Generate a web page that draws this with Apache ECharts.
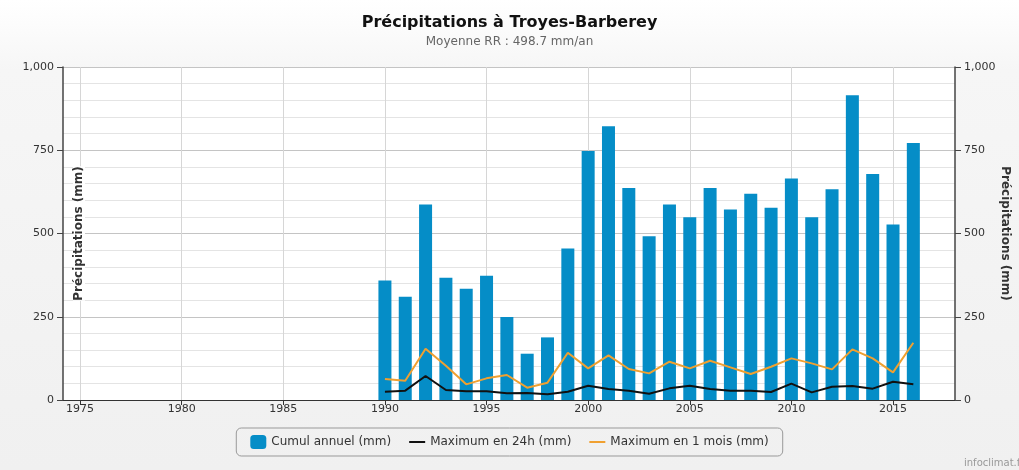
<!DOCTYPE html>
<html>
<head>
<meta charset="utf-8">
<script src="https://cdn.jsdelivr.net/npm/echarts@6/dist/echarts.min.js"></script>
<style>html,body{margin:0;padding:0;}#c{width:1019px;height:470px;}</style>
</head>
<body>
<div id="c"></div>
<script>
const years = [1990,1991,1992,1993,1994,1995,1996,1997,1998,1999,2000,2001,2002,2003,2004,2005,2006,2007,2008,2009,2010,2011,2012,2013,2014,2015,2016];
const cumulAnnuel = [359,310,587,367,334,373,249,139,188,455,748,822,637,492,587,549,637,572,619,577,665,549,633,915,679,527,772];
const max24h = [25,28,72,30,26,26,20,21,17,25,43,33,28,19,35,43,33,28,28,24,49,23,40,42,34,55,47];
const max1mois = [63,58,154,103,47,65,75,37,52,142,95,134,93,80,115,95,118,98,78,100,125,110,92,152,125,83,172];
const xTicks = [1975,1980,1985,1990,1995,2000,2005,2010,2015];
const yTicks = [0,250,500,750,1000];
const seriesNames = ['Cumul annuel (mm)','Maximum en 24h (mm)','Maximum en 1 mois (mm)'];
const titleText = 'Précipitations à Troyes-Barberey';
const subtitleText = 'Moyenne RR : 498.7 mm/an';
const yName = 'Précipitations (mm)';

const pair = arr => years.map((y, i) => [y, arr[i]]);
const FONT = 'DejaVu Sans';
const fmt = v => v.toLocaleString('en-US');
const lineIcon = 'path://M0,0L0,0M0,6L16,6L16,8L0,8ZM16,14L16,14';

const chart = echarts.init(document.getElementById('c'), null, {renderer: 'canvas'});
chart.setOption({
  animation: false,
  backgroundColor: {type: 'linear', x: 0, y: 0, x2: 0, y2: 1, colorStops: [{offset: 0, color: '#ffffff'}, {offset: 0.15, color: '#f6f6f6'}, {offset: 1, color: '#f0f0f0'}]},
  textStyle: {fontFamily: FONT},
  title: {
    text: titleText, subtext: subtitleText, left: 'center', top: 10, itemGap: 5,
    textStyle: {fontFamily: FONT, fontSize: 16, fontWeight: 'bold', color: '#111'},
    subtextStyle: {fontFamily: FONT, fontSize: 12, fontWeight: 'normal', color: '#666'}
  },
  grid: {left: 63, right: 64, top: 67, bottom: 70, show: true, backgroundColor: '#ffffff', borderWidth: 0, containLabel: false},
  legend: {
    data: [
      {name: seriesNames[0], icon: 'roundRect'},
      {name: seriesNames[1], icon: lineIcon},
      {name: seriesNames[2], icon: lineIcon}
    ],
    left: 'center', top: 428, orient: 'horizontal',
    borderColor: '#999', borderWidth: 1, borderRadius: 5, padding: [7, 14, 7, 14],
    itemGap: 18, itemWidth: 16, itemHeight: 14,
    textStyle: {fontFamily: FONT, fontSize: 12, color: '#333'}
  },
  xAxis: {
    type: 'value', min: 1974.16, max: 2018.05,
    axisLine: {show: true, lineStyle: {color: '#333', width: 1}},
    axisTick: {show: true, customValues: xTicks, length: 5, lineStyle: {color: '#333'}},
    axisLabel: {customValues: xTicks, formatter: v => String(v), color: '#333', fontSize: 11, fontFamily: FONT, margin: 4},
    splitLine: {show: true, lineStyle: {color: '#d6d6d6', width: 1}}
  },
  yAxis: [{
    type: 'value', min: 0, max: 1000, interval: 250, position: 'left',
    name: yName, nameLocation: 'middle', nameGap: -22, nameRotate: 90, nameMoveOverlap: false,
    nameTextStyle: {fontFamily: FONT, fontSize: 12, fontWeight: 'bold', color: '#333', backgroundColor: '#fff'},
    axisLine: {show: true, lineStyle: {color: '#444', width: 1.5}},
    axisTick: {show: true, length: 6, lineStyle: {color: '#444'}},
    axisLabel: {formatter: fmt, color: '#333', fontSize: 11, fontFamily: FONT, margin: 9},
    splitLine: {show: true, lineStyle: {color: '#c4c4c4', width: 1}},
    minorTick: {show: false, splitNumber: 5},
    minorSplitLine: {show: true, lineStyle: {color: '#e4e4e4', width: 1}}
  }, {
    type: 'value', min: 0, max: 1000, interval: 250, position: 'right',
    name: yName, nameLocation: 'middle', nameGap: 44, nameRotate: -90, nameMoveOverlap: false,
    nameTextStyle: {fontFamily: FONT, fontSize: 12, fontWeight: 'bold', color: '#333'},
    axisLine: {show: true, lineStyle: {color: '#444', width: 1.5}},
    axisTick: {show: true, length: 6, lineStyle: {color: '#444'}},
    axisLabel: {formatter: fmt, color: '#333', fontSize: 11, fontFamily: FONT, margin: 9},
    splitLine: {show: false}
  }],
  series: [{
    name: seriesNames[0], type: 'bar', yAxisIndex: 0, data: pair(cumulAnnuel),
    barWidth: 13, itemStyle: {color: '#058DC7'}
  }, {
    name: seriesNames[1], type: 'line', yAxisIndex: 0, data: pair(max24h),
    symbol: 'none', lineStyle: {color: '#111', width: 2}, itemStyle: {color: '#111'}
  }, {
    name: seriesNames[2], type: 'line', yAxisIndex: 0, data: pair(max1mois),
    symbol: 'none', lineStyle: {color: '#f0a030', width: 2}, itemStyle: {color: '#f0a030'}
  }],
  graphic: [{
    type: 'text', left: 964, top: 458,
    style: {text: 'infoclimat.fr', fontFamily: FONT, fontSize: 10, fill: '#999'}
  }]
});
</script>
</body>
</html>
